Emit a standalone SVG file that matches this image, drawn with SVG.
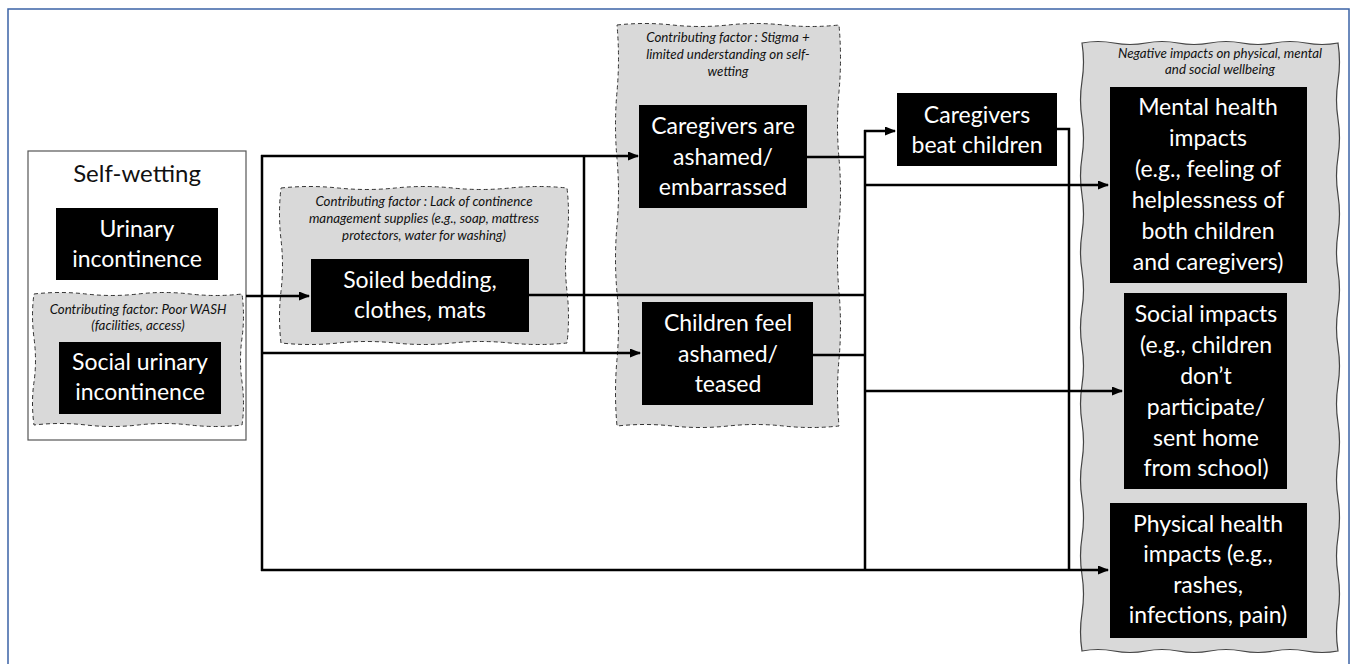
<svg xmlns="http://www.w3.org/2000/svg" width="1354" height="664" viewBox="0 0 1354 664">
<defs>
<marker id="arr" markerUnits="userSpaceOnUse" markerWidth="11" markerHeight="9" refX="10" refY="4.5" orient="auto">
<path d="M0,0 L11,4.5 L0,9 z" fill="#000"/>
</marker>
<style>
.box{fill:#000}
.t{font-family:Lato,"Liberation Sans",sans-serif;fill:#fff;text-anchor:middle}
.l{font-size:23px}
.it{font-family:Lato,"Liberation Sans",sans-serif;font-style:italic;font-size:13.3px;fill:#111;text-anchor:middle}
.cloud{fill:#d9d9d9;stroke:#333;stroke-width:1;stroke-dasharray:4 3}
.wave{fill:#d9d9d9;stroke:#444;stroke-width:1.2}
.c{fill:none;stroke:#000;stroke-width:2.5}
</style>
</defs>
<rect width="1354" height="664" fill="#fff"/>
<rect x="8" y="9" width="1341" height="680" fill="none" stroke="#3b63a6" stroke-width="1.5"/>

<g id="self-wetting">
<rect x="28" y="151" width="218" height="289" fill="#fff" stroke="#555" stroke-width="1.2"/>
<text class="t" x="137" y="182" style="fill:#111;font-size:24px">Self-wetting</text>
</g>

<g id="urinary-incontinence">
<rect class="box" x="56" y="208" width="162" height="72"/>
<text class="t l" x="137" y="237">Urinary</text>
<text class="t l" x="137" y="267">incontinence</text>
</g>

<g id="poor-wash">
<path class="cloud" d="M34,294 Q60,291 86,294 T138,294 T190,294 T242,294 Q245,316 242,338 T242,382 T242,425 Q216,428 190,425 T138,425 T86,425 T34,425 Q31,403 34,382 T34,338 T34,294 z"/>
<text class="it" x="138" y="314">Contributing factor: Poor WASH</text>
<text class="it" x="138" y="330">(facilities, access)</text>
</g>

<g id="social-urinary-incontinence">
<rect class="box" x="59" y="342" width="162" height="72"/>
<text class="t l" x="140" y="370">Social urinary</text>
<text class="t l" x="140" y="400">incontinence</text>
</g>

<g id="lack-supplies">
<path class="cloud" d="M281,188 Q309.6,185 338.2,188 T395.4,188 T452.6,188 T509.8,188 T567,188 Q570,214 567,239.67 T567,291.33 T567,343 Q538.4,346 509.8,343 T452.6,343 T395.4,343 T338.2,343 T281,343 Q278,317 281,291.33 T281,239.67 T281,188 z"/>
<text class="it" x="424" y="206">Contributing factor : Lack of continence</text>
<text class="it" x="424" y="223">management supplies (e.g., soap, mattress</text>
<text class="it" x="424" y="240">protectors, water for washing)</text>
</g>

<g id="soiled-bedding">
<rect class="box" x="311" y="259" width="218" height="73"/>
<text class="t l" x="420" y="288">Soiled bedding,</text>
<text class="t l" x="420" y="318">clothes, mats</text>
</g>

<g id="stigma">
<path class="cloud" d="M617,25 Q644.75,22 672.5,25 T728,25 T783.5,25 T839,25 Q842,58.4 839,91.83 T839,158.67 T839,225.5 T839,292.33 T839,359.17 T839,426 Q811.25,429 783.5,426 T728,426 T672.5,426 T617,426 Q614,392.6 617,359.17 T617,292.33 T617,225.5 T617,158.67 T617,91.83 T617,25 z"/>
<text class="it" x="728" y="42">Contributing factor : Stigma +</text>
<text class="it" x="728" y="59">limited understanding on self-</text>
<text class="it" x="728" y="76">wetting</text>
</g>

<g id="caregivers-ashamed">
<rect class="box" x="639" y="105" width="168" height="103"/>
<text class="t l" x="723" y="134">Caregivers are</text>
<text class="t l" x="723" y="165">ashamed/</text>
<text class="t l" x="723" y="195">embarrassed</text>
</g>

<g id="children-ashamed">
<rect class="box" x="642" y="302" width="171" height="103"/>
<text class="t l" x="728" y="331">Children feel</text>
<text class="t l" x="728" y="362">ashamed/</text>
<text class="t l" x="728" y="392">teased</text>
</g>

<g id="caregivers-beat">
<rect class="box" x="897" y="93" width="160" height="73"/>
<text class="t l" x="977" y="123">Caregivers</text>
<text class="t l" x="977" y="153">beat children</text>
</g>

<g id="negative-impacts">
<path class="wave" d="M1082,43 Q1098,40 1114,43 T1146,43 T1178,43 T1210,43 T1242,43 T1274,43 T1306,43 T1338,43 Q1341,62 1338,81 T1338,119 T1338,157 T1338,195 T1338,233 T1338,271 T1338,309 T1338,347 T1338,385 T1338,423 T1338,461 T1338,499 T1338,537 T1338,575 T1338,613 T1338,651 Q1322,654 1306,651 T1274,651 T1242,651 T1210,651 T1178,651 T1146,651 T1114,651 T1082,651 Q1079,632 1082,613 T1082,575 T1082,537 T1082,499 T1082,461 T1082,423 T1082,385 T1082,347 T1082,309 T1082,271 T1082,233 T1082,195 T1082,157 T1082,119 T1082,81 T1082,43 z"/>
<text class="it" x="1220" y="58">Negative impacts on physical, mental</text>
<text class="it" x="1220" y="74">and social wellbeing</text>
</g>

<g id="mental-health">
<rect class="box" x="1110" y="87" width="197" height="196"/>
<text class="t l" x="1208" y="115">Mental health</text>
<text class="t l" x="1208" y="146">impacts</text>
<text class="t l" x="1208" y="177">(e.g., feeling of</text>
<text class="t l" x="1208" y="208">helplessness of</text>
<text class="t l" x="1208" y="239">both children</text>
<text class="t l" x="1208" y="270">and caregivers)</text>
</g>

<g id="social-impacts">
<rect class="box" x="1124" y="293" width="163" height="196"/>
<text class="t l" x="1206" y="322">Social impacts</text>
<text class="t l" x="1206" y="353">(e.g., children</text>
<text class="t l" x="1206" y="384">don’t</text>
<text class="t l" x="1206" y="415">participate/</text>
<text class="t l" x="1206" y="446">sent home</text>
<text class="t l" x="1206" y="476">from school)</text>
</g>

<g id="physical-health">
<rect class="box" x="1110" y="503" width="197" height="135"/>
<text class="t l" x="1208" y="532">Physical health</text>
<text class="t l" x="1208" y="562">impacts (e.g.,</text>
<text class="t l" x="1208" y="593">rashes,</text>
<text class="t l" x="1208" y="623">infections, pain)</text>
</g>

<g id="connectors">
<path class="c" d="M246,296 H309" marker-end="url(#arr)"/>
<path class="c" d="M262,155 V571"/>
<path class="c" d="M261,156 H638" marker-end="url(#arr)"/>
<path class="c" d="M261,353 H640" marker-end="url(#arr)"/>
<path class="c" d="M261,570 H1108" marker-end="url(#arr)"/>
<path class="c" d="M529,295 H866"/>
<path class="c" d="M584,156 V353"/>
<path class="c" d="M807,157 H866"/>
<path class="c" d="M813,355 H866"/>
<path class="c" d="M865,130 V571"/>
<path class="c" d="M864,131 H895" marker-end="url(#arr)"/>
<path class="c" d="M865,185 H1108" marker-end="url(#arr)"/>
<path class="c" d="M865,391 H1122" marker-end="url(#arr)"/>
<path class="c" d="M1057,129 H1069 V571"/>
</g>
</svg>
